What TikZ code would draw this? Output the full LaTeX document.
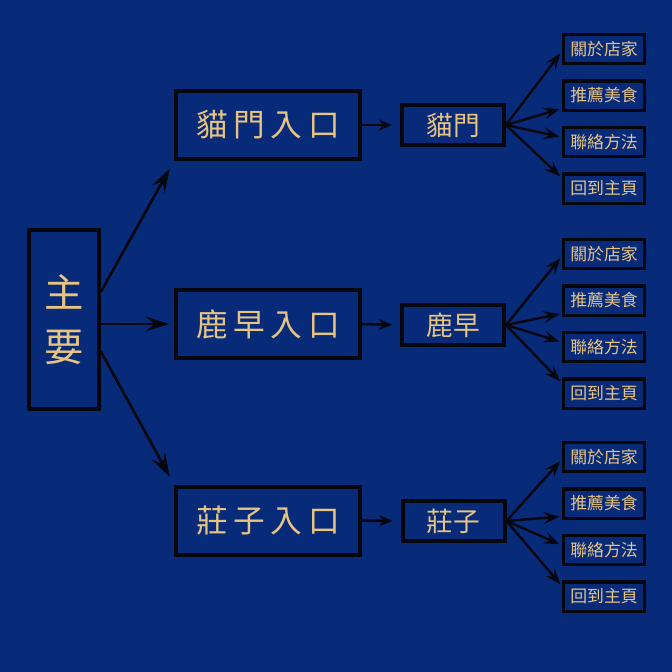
\documentclass[tikz,border=0pt]{standalone}
\usepackage{fontspec}
\usepackage{tikz}
\usetikzlibrary{arrows.meta,calc}
\newfontfamily\cjk{Noto Sans CJK TC}
\newfontfamily\cjkwide{Noto Sans CJK TC}[LetterSpace=18]
\definecolor{navy}{HTML}{072A79}
\definecolor{gold}{HTML}{E8C482}
\definecolor{edge}{HTML}{05070F}
\tikzset{
  every node/.style={text=gold,inner sep=0pt},
  box/.style={draw=edge,line width=1mm,fill=navy},
  root/.style={box,minimum width=17.5mm,minimum height=44.75mm,align=center,
    font=\cjk\fontsize{28}{38}\selectfont},
  entry/.style={box,minimum width=46mm,minimum height=17mm,font=\cjkwide\fontsize{22.5}{26}\selectfont},
  page/.style={box,minimum width=25.5mm,minimum height=10mm,font=\cjk\fontsize{19}{22}\selectfont},
  leaf/.style={box,line width=.8mm,minimum width=20.3mm,minimum height=7.3mm,font=\cjk\fontsize{12}{14}\selectfont},
  big/.style={-{Stealth[length=6mm,width=3.8mm,inset=2.4mm]},line width=.65mm,draw=edge},
  mid/.style={-{Stealth[length=3.4mm,width=2.8mm,inset=1.2mm]},line width=.65mm,draw=edge},
  small/.style={-{Stealth[length=4mm,width=3mm,inset=1.6mm]},line width=.6mm,draw=edge},
}
% four menu items to the right of one shop page
\newcommand{\menu}[3]{%
  \node[leaf] (#1a) at (604,#3) {關於店家};
  \node[leaf] (#1b) at (604,#3+46.5) {推薦美食};
  \node[leaf] (#1c) at (604,#3+93) {聯絡方法};
  \node[leaf] (#1d) at (604,#3+139.5) {回到主頁};
  \draw[small,shorten >=.6mm] (#2.east) -- ($(#1a.west)!.15!(#1a.south west)$);
  \draw[small,shorten >=.6mm] (#2.east) -- ($(#1b.west)!.8!(#1b.south west)$);
  \draw[small,shorten >=.6mm] (#2.east) -- ($(#1c.west)!.3!(#1c.north west)$);
  \draw[small,shorten >=.6mm] (#2.east) -- ($(#1d.west)!.65!(#1d.north west)$);}

\begin{document}
\begin{tikzpicture}[x=.25mm,y=-.25mm]
\path[use as bounding box] (0,0) rectangle (672,672);
\fill[navy] (0,0) rectangle (672,672);
\node[root] (main) at (64,319.5) {主\\要};
\node[entry] (cat) at (268,125) {貓門入口};
\node[entry] (deer) at (268,324) {鹿早入口};
\node[entry] (zhuang) at (268,520.5) {莊子入口};
\draw[big,shorten >=2.2mm] (main.37) -- (cat.south west);
\draw[big,shorten >=1.2mm] (main.east |- deer.west) -- (deer.west);
\draw[big,shorten >=2.2mm] (main.-41) -- (zhuang.north west);
% shop pages
\node[page] (catpg) at (453,125) {貓門};
\node[page] (deerpg) at (453,325) {鹿早};
\node[page] (zhuangpg) at (453.5,521) {莊子};
\draw[mid,shorten >=2mm] (cat.east) -- (catpg.west);
\draw[mid,shorten >=2mm] (deer.east) -- (deerpg.west);
\draw[mid,shorten >=2mm] (zhuang.east) -- (zhuangpg.west);
\menu{cat}{catpg}{49}
\menu{deer}{deerpg}{254}
\menu{zh}{zhuangpg}{457}
\end{tikzpicture}
\end{document}
